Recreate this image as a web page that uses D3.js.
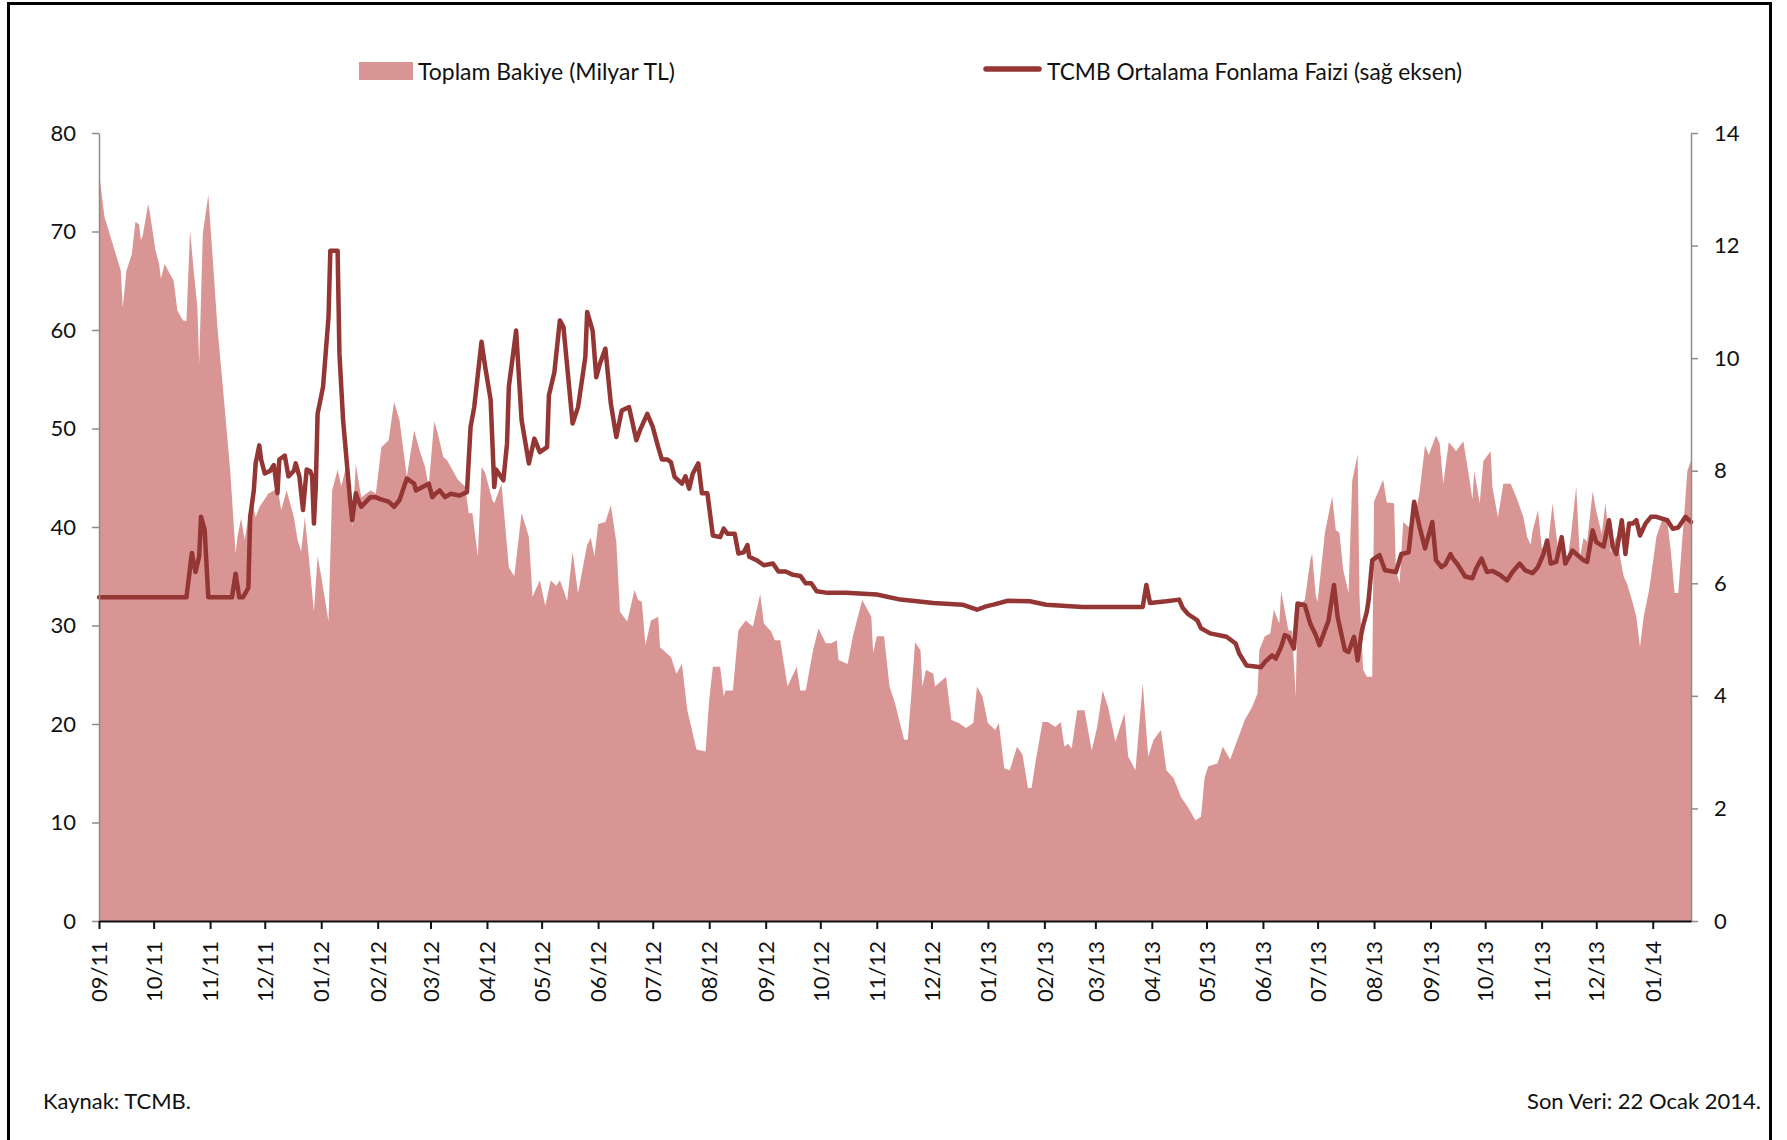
<!DOCTYPE html>
<html><head><meta charset="utf-8">
<script src="https://cdn.jsdelivr.net/npm/d3@7"></script>
<style>
body{margin:0;background:#fff;}
svg text{font-family:Lato,"Liberation Sans",sans-serif;fill:#111;}
</style></head><body>
<svg id="chart" width="1787" height="1140"></svg>
<script>
// ---- data ----
const bakiyeDates = [
"2011-09-01","2011-09-04","2011-09-13","2011-09-14","2011-09-15","2011-09-16","2011-09-19","2011-09-21","2011-09-23","2011-09-24","2011-09-25","2011-09-28","2011-09-29",
"2011-10-02","2011-10-04","2011-10-05","2011-10-07","2011-10-12","2011-10-14","2011-10-17","2011-10-19","2011-10-21","2011-10-23","2011-10-25","2011-10-26","2011-10-28","2011-10-31",
"2011-11-02","2011-11-05","2011-11-08","2011-11-12","2011-11-15","2011-11-16","2011-11-18","2011-11-20","2011-11-22","2011-11-24","2011-11-26","2011-11-28",
"2011-12-03","2011-12-06","2011-12-08","2011-12-10","2011-12-13","2011-12-17","2011-12-19","2011-12-21","2011-12-23","2011-12-25","2011-12-28","2011-12-30",
"2012-01-01","2012-01-05","2012-01-07","2012-01-10","2012-01-12","2012-01-15","2012-01-18","2012-01-20","2012-01-23","2012-01-28","2012-01-31",
"2012-02-03","2012-02-07","2012-02-10","2012-02-13","2012-02-17","2012-02-21","2012-02-24","2012-02-27","2012-02-29",
"2012-03-03","2012-03-05","2012-03-08","2012-03-10","2012-03-13","2012-03-16","2012-03-20","2012-03-22","2012-03-24","2012-03-27","2012-03-29","2012-03-31",
"2012-04-04","2012-04-05","2012-04-09","2012-04-13","2012-04-16","2012-04-20","2012-04-24","2012-04-26","2012-04-30",
"2012-05-03","2012-05-06","2012-05-09","2012-05-11","2012-05-13","2012-05-15","2012-05-18","2012-05-21","2012-05-26","2012-05-28","2012-05-30",
"2012-06-01","2012-06-05","2012-06-08","2012-06-11","2012-06-13","2012-06-17","2012-06-21","2012-06-23","2012-06-25","2012-06-27","2012-06-30",
"2012-07-04","2012-07-05","2012-07-11","2012-07-14","2012-07-17","2012-07-20","2012-07-25","2012-07-30",
"2012-08-01","2012-08-03","2012-08-07","2012-08-09","2012-08-10","2012-08-14","2012-08-17","2012-08-21","2012-08-25","2012-08-29","2012-08-31",
"2012-09-04","2012-09-06","2012-09-09","2012-09-13","2012-09-18","2012-09-20","2012-09-23","2012-09-27","2012-09-30",
"2012-10-04","2012-10-07","2012-10-10","2012-10-11","2012-10-16","2012-10-19","2012-10-24","2012-10-29","2012-10-30",
"2012-11-01","2012-11-05","2012-11-08","2012-11-11","2012-11-16","2012-11-18","2012-11-20","2012-11-22","2012-11-25","2012-11-26","2012-11-28",
"2012-12-02","2012-12-03","2012-12-09","2012-12-12","2012-12-16","2012-12-20","2012-12-24","2012-12-26","2012-12-29",
"2013-01-01","2013-01-05","2013-01-07","2013-01-10","2013-01-13","2013-01-17","2013-01-20","2013-01-23","2013-01-25","2013-01-27","2013-01-31",
"2013-02-03","2013-02-07","2013-02-10","2013-02-12","2013-02-14","2013-02-16","2013-02-19","2013-02-23","2013-02-27",
"2013-03-02","2013-03-05","2013-03-08","2013-03-12","2013-03-17","2013-03-19","2013-03-23","2013-03-27","2013-03-30",
"2013-04-02","2013-04-06","2013-04-09","2013-04-13","2013-04-17","2013-04-21","2013-04-25","2013-04-28","2013-04-30",
"2013-05-02","2013-05-07","2013-05-10","2013-05-14","2013-05-18","2013-05-22","2013-05-26","2013-05-29","2013-05-30",
"2013-06-02","2013-06-05","2013-06-07","2013-06-10","2013-06-11","2013-06-15","2013-06-17","2013-06-19","2013-06-20","2013-06-24","2013-06-27","2013-06-28","2013-06-30",
"2013-07-01","2013-07-05","2013-07-09","2013-07-11","2013-07-13","2013-07-15","2013-07-18","2013-07-20","2013-07-23","2013-07-24","2013-07-26","2013-07-28","2013-07-31",
"2013-08-01","2013-08-06","2013-08-08","2013-08-12","2013-08-13","2013-08-15","2013-08-17","2013-08-20","2013-08-24","2013-08-26","2013-08-29","2013-08-31",
"2013-09-04","2013-09-06","2013-09-08","2013-09-11","2013-09-13","2013-09-15","2013-09-19","2013-09-22","2013-09-24","2013-09-25","2013-09-28","2013-09-30",
"2013-10-04","2013-10-05","2013-10-08","2013-10-11","2013-10-15","2013-10-18","2013-10-22","2013-10-24","2013-10-26","2013-10-27","2013-10-30",
"2013-11-01","2013-11-04","2013-11-07","2013-11-10","2013-11-12","2013-11-15","2013-11-17","2013-11-20","2013-11-22","2013-11-24","2013-11-26","2013-11-29",
"2013-12-01","2013-12-04","2013-12-06","2013-12-09","2013-12-12","2013-12-14","2013-12-16","2013-12-18","2013-12-21","2013-12-23","2013-12-25","2013-12-27","2013-12-30","2013-12-31",
"2014-01-03","2014-01-06","2014-01-09","2014-01-11","2014-01-13","2014-01-15","2014-01-18","2014-01-20","2014-01-22"
];
const bakiyeValues = [
76.0,71.5,66,62.3,64,66,67.7,71,70.7,69.1,69.6,72.8,71.8,
68.1,66.7,65.2,66.7,65,62,61,60.9,70.1,66,62.3,56.6,69.8,73.7,
68.4,60.3,54.2,45.8,37.3,39,40.9,38.7,41,42.7,41,42,
43.4,43.7,44.1,41.7,43.7,41,38.7,37.5,41,37.3,31.4,37,
35,30.4,43.7,45.8,44.1,46.4,40,46.4,43,43.7,43.4,
48.1,48.8,52.7,50.8,45.1,49.8,47.8,46.1,44.1,
50.7,49.5,47.1,46.8,45.8,44.8,44.1,41.4,41.4,37,46.1,45.5,
42.7,42.4,44.4,35.9,35,41.4,39,32.9,34.6,
32.0,34.6,34.0,34.6,33.6,32.5,37.5,33.3,38.2,38.9,37.0,
40.3,40.5,42.2,38.5,31.4,30.4,33.6,32.6,32.4,28.0,30.5,
30.9,27.8,26.8,25.1,26.1,21.4,17.4,17.2,
22.4,25.8,25.8,22.8,23.4,23.4,29.5,30.5,29.9,33.2,30.2,
29.4,28.5,28.5,23.8,25.8,23.4,23.4,27.5,29.7,
28.2,28.2,28.5,26.5,26.1,29.0,32.6,30.9,27.2,
28.9,28.9,23.8,22.1,18.4,18.4,23.1,28.3,27.5,23.8,25.5,
25.1,23.8,24.8,20.4,20.1,19.6,20.1,23.8,22.8,
20.1,19.4,20.1,15.5,15.3,17.7,16.9,13.5,13.5,16.0,20.2,
20.2,19.7,20.2,17.7,18.0,17.5,21.4,21.4,17.3,
19.7,23.4,21.7,18.2,21.1,16.7,15.3,24.1,16.7,
18.4,19.4,15.3,14.5,12.6,11.5,10.2,10.6,14.6,
15.7,16.0,17.7,16.4,18.4,20.4,21.7,23.1,27.5,
28.9,29.2,31.6,30.2,33.5,29.5,29.5,22.8,31.9,32.6,36.6,37.3,33.0,
32.4,39.4,43.1,39.7,39.4,35.7,33.3,44.7,47.4,33,25.5,24.8,24.8,
42.6,44.8,42.5,42.4,35.6,34.3,40.5,40.0,41.5,43.6,48.3,47.3,
49.3,48.5,44.4,48.6,48.2,47.7,48.7,45.3,42.8,45.7,42.4,46.7,
47.7,44.0,41.0,44.4,44.4,43.1,41,39,38.2,39.6,41.7,
38,37.4,42.4,37.7,37.7,36.4,39,44.1,36.8,38.9,38.5,43.6,
41.6,39.3,42.4,37.4,39.1,37,35.0,34.2,32.3,30.9,27.8,30.9,33.6,34.9,
39,40.6,40.6,37.4,33.3,33.3,40.6,45.7,46.7
];
const faizDates = [
"2011-09-01","2011-10-19","2011-10-22","2011-10-23","2011-10-24","2011-10-26","2011-10-27","2011-10-29","2011-10-31",
"2011-11-13","2011-11-15","2011-11-17","2011-11-19","2011-11-22","2011-11-23","2011-11-25","2011-11-26","2011-11-28","2011-11-29",
"2011-12-01","2011-12-04","2011-12-06","2011-12-08","2011-12-09","2011-12-12","2011-12-14","2011-12-17","2011-12-18","2011-12-20","2011-12-22","2011-12-24","2011-12-26","2011-12-27","2011-12-28","2011-12-29","2011-12-30",
"2012-01-02","2012-01-05","2012-01-06","2012-01-10","2012-01-11","2012-01-13","2012-01-17","2012-01-18","2012-01-20","2012-01-21","2012-01-23","2012-01-28","2012-01-31",
"2012-02-02","2012-02-07","2012-02-10","2012-02-13","2012-02-17","2012-02-21","2012-02-22","2012-02-29",
"2012-03-02","2012-03-04","2012-03-06","2012-03-09","2012-03-12","2012-03-17","2012-03-21","2012-03-23","2012-03-25","2012-03-29","2012-03-31",
"2012-04-03","2012-04-05","2012-04-06","2012-04-10","2012-04-12","2012-04-13","2012-04-17","2012-04-20","2012-04-24","2012-04-27","2012-04-30",
"2012-05-04","2012-05-05","2012-05-08","2012-05-11","2012-05-13","2012-05-18","2012-05-21","2012-05-25","2012-05-26","2012-05-29","2012-05-31",
"2012-06-02","2012-06-05","2012-06-08","2012-06-11","2012-06-14","2012-06-18","2012-06-22","2012-06-24","2012-06-28",
"2012-07-01","2012-07-04","2012-07-06","2012-07-09","2012-07-11","2012-07-13","2012-07-17","2012-07-19","2012-07-21","2012-07-23","2012-07-26","2012-07-28","2012-07-31",
"2012-08-03","2012-08-07","2012-08-09","2012-08-11","2012-08-15","2012-08-17","2012-08-20","2012-08-22","2012-08-23","2012-08-27","2012-08-31",
"2012-09-05","2012-09-08","2012-09-12","2012-09-16","2012-09-20","2012-09-23","2012-09-26","2012-09-29",
"2012-10-05","2012-10-15","2012-11-01","2012-11-14","2012-12-02","2012-12-18","2012-12-26","2012-12-31",
"2013-01-04","2013-01-12","2013-01-24","2013-02-02","2013-02-22","2013-03-13","2013-03-27","2013-03-29","2013-03-31",
"2013-04-09","2013-04-16","2013-04-18","2013-04-21","2013-04-26","2013-04-28",
"2013-05-03","2013-05-12","2013-05-17","2013-05-19","2013-05-23","2013-05-31",
"2013-06-02","2013-06-06","2013-06-08","2013-06-11","2013-06-13","2013-06-15","2013-06-18","2013-06-20","2013-06-24","2013-06-27","2013-06-30",
"2013-07-02","2013-07-07","2013-07-10","2013-07-12","2013-07-16","2013-07-18","2013-07-21","2013-07-23","2013-07-25","2013-07-26","2013-07-28","2013-07-29","2013-07-31",
"2013-08-04","2013-08-07","2013-08-13","2013-08-16","2013-08-20","2013-08-23","2013-08-26","2013-08-29",
"2013-09-02","2013-09-04","2013-09-07","2013-09-09","2013-09-12","2013-09-13","2013-09-16","2013-09-20","2013-09-24","2013-09-26","2013-09-29",
"2013-10-02","2013-10-05","2013-10-09","2013-10-13","2013-10-16","2013-10-20","2013-10-23","2013-10-27","2013-10-30",
"2013-11-02","2013-11-04","2013-11-06","2013-11-09","2013-11-12","2013-11-14","2013-11-18","2013-11-20","2013-11-24","2013-11-26","2013-11-29",
"2013-12-01","2013-12-05","2013-12-08","2013-12-10","2013-12-12","2013-12-15","2013-12-17","2013-12-19","2013-12-21","2013-12-23","2013-12-25","2013-12-28","2013-12-31",
"2014-01-03","2014-01-09","2014-01-12","2014-01-15","2014-01-19","2014-01-22"
];
const faizValues = [
5.75,5.75,6.54,6.35,6.2,6.48,7.18,6.95,5.75,
5.75,6.17,5.75,5.75,5.92,7.18,7.65,8.13,8.45,8.2,
7.95,8.0,8.1,7.6,8.2,8.27,7.9,8.0,8.13,7.9,7.30,8.02,7.99,7.9,7.06,7.7,9.01,
9.49,10.73,11.91,11.91,10.08,8.9,7.42,7.12,7.6,7.5,7.36,7.53,7.53,
7.5,7.45,7.36,7.48,7.86,7.77,7.65,7.77,
7.53,7.6,7.65,7.53,7.59,7.56,7.62,8.78,9.13,10.29,9.85,
9.26,7.71,8.02,7.83,8.48,9.49,10.49,8.9,8.13,8.57,8.33,
8.42,9.34,9.75,10.67,10.55,8.84,9.13,10.02,10.82,10.49,9.66,
9.9,10.17,9.19,8.6,9.07,9.13,8.54,8.72,9.01,
8.78,8.42,8.2,8.2,8.15,7.89,7.77,7.9,7.68,7.95,8.13,7.6,7.6,
6.85,6.82,6.97,6.88,6.88,6.53,6.55,6.68,6.47,6.41,6.32,
6.35,6.21,6.21,6.15,6.13,6.0,6.0,5.86,
5.83,5.83,5.80,5.71,5.65,5.62,5.53,5.59,
5.62,5.69,5.68,5.62,5.58,5.58,5.58,5.97,5.65,
5.68,5.71,5.56,5.45,5.34,5.2,
5.11,5.05,4.93,4.75,4.54,4.51,
4.6,4.72,4.66,4.87,5.08,5.05,4.84,5.64,5.61,5.28,5.08,
4.9,5.34,5.97,5.4,4.81,4.78,5.05,4.63,5.1,5.25,5.49,5.7,6.41,
6.5,6.23,6.2,6.52,6.55,7.45,7.0,6.62,
7.09,6.41,6.29,6.33,6.52,6.45,6.33,6.12,6.09,6.26,6.44,
6.2,6.22,6.15,6.05,6.2,6.35,6.23,6.18,6.29,
6.52,6.76,6.35,6.38,6.82,6.35,6.58,6.52,6.41,6.38,6.94,
6.73,6.65,7.12,6.65,6.52,7.12,6.52,7.06,7.06,7.12,6.85,7.06,7.18,
7.18,7.12,6.97,6.99,7.18,7.09
];
const monthTicks = ["2011-09-01","2011-10-01","2011-11-01","2011-12-01","2012-01-01","2012-02-01","2012-03-01","2012-04-01","2012-05-01","2012-06-01","2012-07-01","2012-08-01","2012-09-01","2012-10-01","2012-11-01","2012-12-01","2013-01-01","2013-02-01","2013-03-01","2013-04-01","2013-05-01","2013-06-01","2013-07-01","2013-08-01","2013-09-01","2013-10-01","2013-11-01","2013-12-01","2014-01-01"];
const leftTicks = [0,10,20,30,40,50,60,70,80];
const rightTicks = [0,2,4,6,8,10,12,14];
const seriesNames = ["Toplam Bakiye (Milyar TL)","TCMB Ortalama Fonlama Faizi (sağ eksen)"];
const footLeft = "Kaynak: TCMB.";
const footRight = "Son Veri: 22 Ocak 2014.";

// ---- drawing ----
const parse = d3.timeParse("%Y-%m-%d");
const svg = d3.select("#chart");
const areaColor = "#d99594", lineColor = "#943634";
const L = 99, R = 1691, T = 133, B = 921;

const x = d3.scaleTime().domain([parse("2011-09-01"), parse("2014-01-22")]).range([L, R]);
const yL = d3.scaleLinear().domain([0, 80]).range([B, T]);
const yR = d3.scaleLinear().domain([0, 14]).range([B, T]);

const bakiye = bakiyeDates.map((d, i) => ({date: parse(d), v: bakiyeValues[i]}));
const faiz = faizDates.map((d, i) => ({date: parse(d), v: faizValues[i]}));

svg.append("rect").attr("x", 0).attr("y", 0).attr("width", 1787).attr("height", 1140).attr("fill", "#fff");
svg.append("rect").attr("x", 8.5).attr("y", 3.5).attr("width", 1762).attr("height", 1160)
  .attr("fill", "none").attr("stroke", "#000").attr("stroke-width", 3);

svg.append("path").datum(bakiye)
  .attr("fill", areaColor)
  .attr("d", d3.area().x(d => x(d.date)).y0(yL(0)).y1(d => yL(d.v)));

svg.append("path").datum(faiz)
  .attr("fill", "none").attr("stroke", lineColor).attr("stroke-width", 4.5)
  .attr("stroke-linejoin", "round").attr("stroke-linecap", "round")
  .attr("d", d3.line().x(d => x(d.date)).y(d => yR(d.v)));

// left axis
const gl = svg.append("g").attr("transform", `translate(${L},0)`)
  .call(d3.axisLeft(yL).tickValues(leftTicks).tickSize(7).tickSizeOuter(0).tickPadding(16));
gl.select(".domain").attr("stroke", "#8c8c8c").attr("stroke-width", 1.5);
gl.selectAll(".tick line").attr("stroke", "#8c8c8c").attr("stroke-width", 1.5);
gl.selectAll(".tick text").style("font-size", "22px").style("font-family", "Lato").attr("fill", "#111");

// right axis
const gr = svg.append("g").attr("transform", `translate(${R},0)`)
  .call(d3.axisRight(yR).tickValues(rightTicks).tickSize(7).tickSizeOuter(0).tickPadding(16));
gr.select(".domain").attr("stroke", "#8c8c8c").attr("stroke-width", 1.5);
gr.selectAll(".tick line").attr("stroke", "#8c8c8c").attr("stroke-width", 1.5);
gr.selectAll(".tick text").style("font-size", "22px").style("font-family", "Lato").attr("fill", "#111");

// bottom axis
const gb = svg.append("g").attr("transform", `translate(0,${B})`)
  .call(d3.axisBottom(x).tickValues(monthTicks.map(parse)).tickFormat(d3.timeFormat("%m/%y")).tickSize(8).tickSizeOuter(0));
gb.select(".domain").attr("stroke", "#111").attr("stroke-width", 2);
gb.selectAll(".tick line").attr("stroke", "#111").attr("stroke-width", 2);
gb.selectAll(".tick text")
  .style("font-size", "22px").style("font-family", "Lato").attr("fill", "#111")
  .attr("transform", "rotate(-90)").attr("x", -20).attr("y", 0).attr("dy", "0.35em")
  .style("text-anchor", "end");

// legend
svg.append("rect").attr("x", 359).attr("y", 62).attr("width", 54).attr("height", 18).attr("fill", areaColor);
svg.append("text").attr("x", 418).attr("y", 80).text(seriesNames[0])
  .style("font-size", "24px").attr("textLength", 257).attr("lengthAdjust", "spacingAndGlyphs");
svg.append("line").attr("x1", 986).attr("x2", 1039).attr("y1", 69).attr("y2", 69)
  .attr("stroke", lineColor).attr("stroke-width", 5.5).attr("stroke-linecap", "round");
svg.append("text").attr("x", 1047).attr("y", 80).text(seriesNames[1])
  .style("font-size", "24px").attr("textLength", 415).attr("lengthAdjust", "spacingAndGlyphs");

// footer
svg.append("text").attr("x", 43).attr("y", 1109).text(footLeft)
  .style("font-size", "22px").attr("textLength", 148).attr("lengthAdjust", "spacingAndGlyphs");
svg.append("text").attr("x", 1761).attr("y", 1109).attr("text-anchor", "end").text(footRight)
  .style("font-size", "22px").attr("textLength", 234).attr("lengthAdjust", "spacingAndGlyphs");
</script>
</body></html>
